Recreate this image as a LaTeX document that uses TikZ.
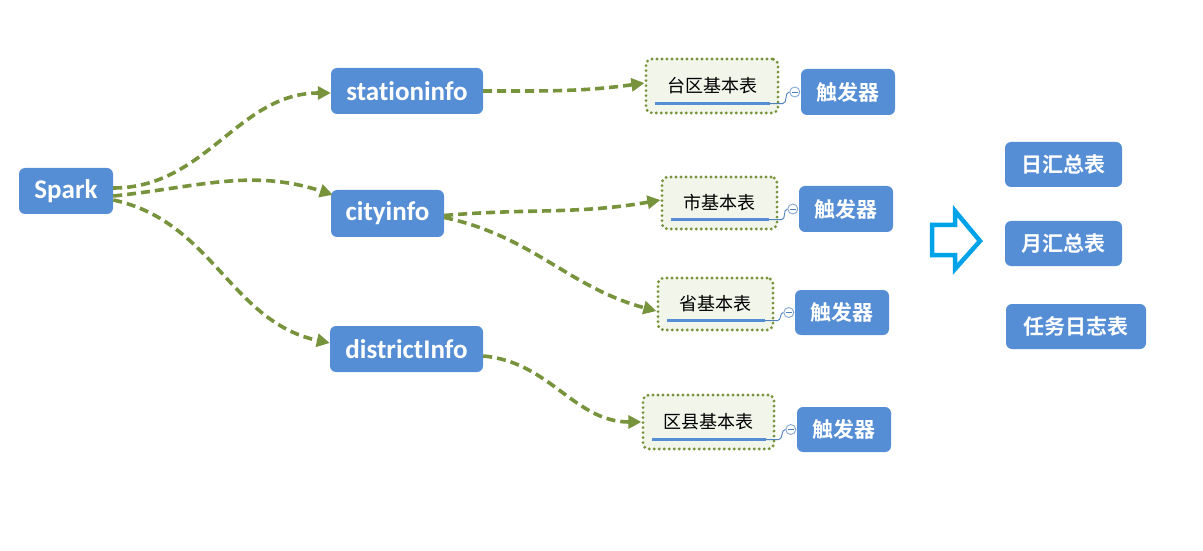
\documentclass[tikz,border=0pt]{standalone}
\usepackage{fontspec}
\setmainfont{Carlito}[Ligatures={NoCommon,NoContextual}]
\newfontfamily\cjkb[BoldFont=Noto Sans CJK SC Bold]{Noto Sans CJK SC}
\newfontfamily\cjkr{Noto Sans CJK SC}
\usetikzlibrary{arrows.meta}
\definecolor{nodeblue}{HTML}{558ED5}
\definecolor{olive}{HTML}{77933C}
\definecolor{tabfill}{HTML}{F2F5EA}
\definecolor{linkblue}{HTML}{4F81BD}
\definecolor{arrowblue}{HTML}{00A2E8}
\begin{document}
\begin{tikzpicture}[x=1pt,y=1pt,
  bluebox/.style={fill=nodeblue,rounded corners=6pt,text=white,inner sep=0pt,align=center},
  lat/.style={bluebox,font=\fontsize{27}{30}\selectfont\bfseries},
  cjk/.style={bluebox,font=\fontsize{21}{24}\cjkb\bfseries},
  tab/.style={fill=tabfill,draw=olive,line width=3.2pt,dash pattern=on 0pt off 5pt,line cap=round,rounded corners=6pt,inner sep=0pt,font=\fontsize{18}{21}\cjkr},
  conn/.style={olive,line width=3.6pt,dash pattern=on 9pt off 5pt,-{Triangle[length=13pt,width=13pt]}},
  uline/.style={nodeblue,line width=3.4pt},
  link/.style={linkblue,line width=0.9pt},
  knob/.style={circle,draw=linkblue!70,fill=white,line width=0.9pt,minimum size=10pt,inner sep=0pt},
]
\useasboundingbox (0,0) rectangle (1203,550);
% main nodes
\node[lat,minimum width=94pt,minimum height=46pt] (spark) at (66,359) {Spark};
\node[lat,minimum width=152pt,minimum height=46pt] (station) at (407,459) {stat\kern0pt ioninfo};
\node[lat,minimum width=113pt,minimum height=47pt] (city) at (387.5,336.5) {cityinfo};
\node[lat,minimum width=153pt,minimum height=46pt] (district) at (406.5,201) {districtInfo};
% tables
\node[tab,minimum width=132pt,minimum height=54pt] (t1) at (712,464) {\raisebox{3pt}{台区基本表}};
\node[tab,minimum width=115pt,minimum height=52pt] (t2) at (719.5,347) {\raisebox{3pt}{市基本表}};
\node[tab,minimum width=115pt,minimum height=52pt] (t3) at (715.5,246) {\raisebox{3pt}{省基本表}};
\node[tab,minimum width=131pt,minimum height=54pt] (t4) at (708.5,128) {\raisebox{3pt}{区县基本表}};
% triggers
\node[cjk,minimum width=94pt,minimum height=46pt] (g1) at (848,458) {触发器};
\node[cjk,minimum width=94pt,minimum height=46pt] (g2) at (846,341) {触发器};
\node[cjk,minimum width=94pt,minimum height=45pt] (g3) at (842,237.5) {触发器};
\node[cjk,minimum width=94pt,minimum height=45pt] (g4) at (844,120.5) {触发器};
% summary tables
\node[cjk,minimum width=117pt,minimum height=45pt] (day) at (1063.5,385.5) {日汇总表};
\node[cjk,minimum width=117pt,minimum height=45pt] (month) at (1063.5,306.5) {月汇总表};
\node[cjk,minimum width=140pt,minimum height=45pt] (log) at (1076,223.5) {任务日志表};
% big arrow
\draw[arrowblue,line width=4.5pt,line join=miter]
  (932,325) -- (955,325) -- (955,339) -- (980,309) -- (955,281) -- (955,295) -- (932,295) -- cycle;
% connectors
\draw[conn] ([yshift=3pt]spark.east) to[out=0,in=180] ([yshift=-2pt]station.west);
\draw[conn] ([yshift=-5pt]spark.east) to[out=6,in=162] ([xshift=2pt,yshift=-5pt]city.north west);
\draw[conn] ([yshift=-9pt]spark.east) to[out=-12,in=168] ([yshift=6pt]district.west);
\draw[conn] (station.east) to[out=0,in=188] ([yshift=3pt]t1.west);
\draw[conn] ([yshift=-2pt]city.east) to[out=5,in=190] ([yshift=3pt]t2.west);
\draw[conn] ([yshift=-4pt]city.east) to[out=-12,in=165] ([yshift=-7pt]t3.west);
\draw[conn] ([yshift=-7pt]district.east) to[out=-5,in=180] (t4.west);
% underlines, links and knobs
\foreach \t/\g in {t1/g1,t2/g2,t3/g3,t4/g4}{
  \draw[uline] ([xshift=11pt,yshift=11pt]\t.south west) -- ([xshift=-10pt,yshift=11pt]\t.south east) coordinate (\t u);
  \node[knob] (\t k) at ([xshift=-6pt]\g.west) {};
  \draw[linkblue,line width=0.9pt] ([xshift=-2.8pt]\t k.center) -- ([xshift=2.8pt]\t k.center);
  \draw[link] (\t u) -- ++(13pt,0) to[out=0,in=180] (\t k.west);
}
\end{tikzpicture}
\end{document}
